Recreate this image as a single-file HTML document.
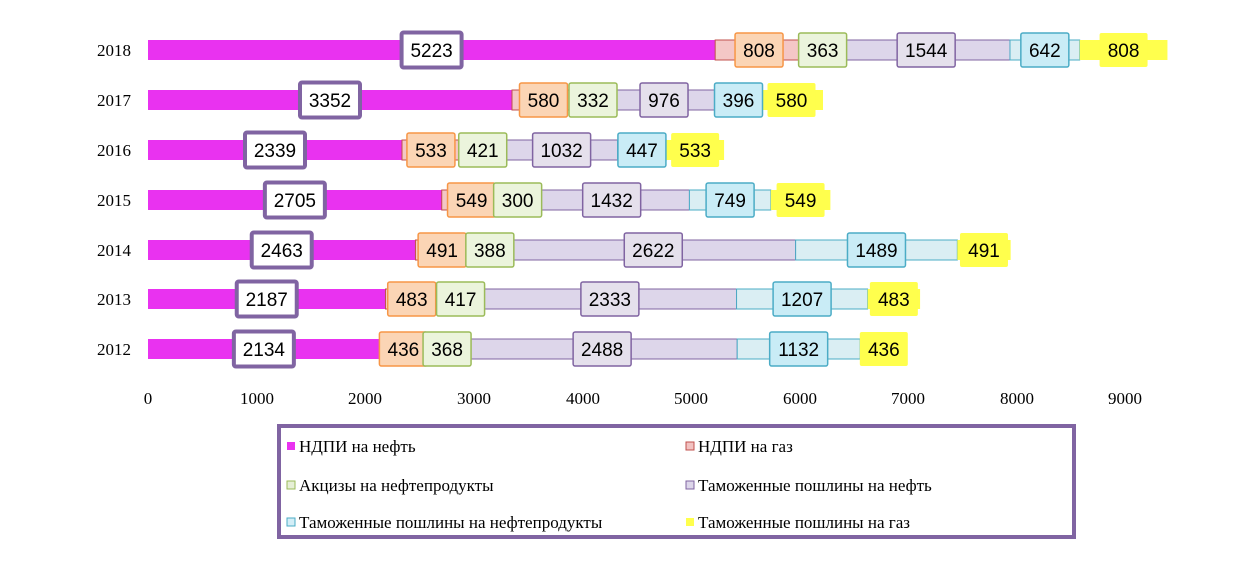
<!DOCTYPE html>
<html><head><meta charset="utf-8"><style>
body{margin:0;background:#fff;}
svg{display:block;}
</style></head><body>
<svg id="s" width="1234" height="562" xmlns="http://www.w3.org/2000/svg" font-family="Liberation Serif, serif">
<g font-size="17" fill="#000">
<text x="131" y="56" text-anchor="end">2018</text>
<text x="131" y="106" text-anchor="end">2017</text>
<text x="131" y="156" text-anchor="end">2016</text>
<text x="131" y="206" text-anchor="end">2015</text>
<text x="131" y="256" text-anchor="end">2014</text>
<text x="131" y="305" text-anchor="end">2013</text>
<text x="131" y="355" text-anchor="end">2012</text>
<text x="148" y="404" text-anchor="middle">0</text>
<text x="257" y="404" text-anchor="middle">1000</text>
<text x="365" y="404" text-anchor="middle">2000</text>
<text x="474" y="404" text-anchor="middle">3000</text>
<text x="583" y="404" text-anchor="middle">4000</text>
<text x="691" y="404" text-anchor="middle">5000</text>
<text x="800" y="404" text-anchor="middle">6000</text>
<text x="908" y="404" text-anchor="middle">7000</text>
<text x="1017" y="404" text-anchor="middle">8000</text>
<text x="1125" y="404" text-anchor="middle">9000</text>
</g>
<g id="bars"></g>
<rect x="279" y="426" width="795" height="111" fill="#fff" stroke="#8064a2" stroke-width="4"/>
<g font-size="17" fill="#000">
<rect x="287" y="442" width="8" height="8" fill="#e932f0"/>
<text x="299" y="452">НДПИ на нефть</text>
<rect x="686" y="442" width="8" height="8" fill="#f2c2c1" stroke="#c0504d"/>
<text x="698" y="452">НДПИ на газ</text>
<rect x="287" y="481" width="8" height="8" fill="#e6efd6" stroke="#9bbb59"/>
<text x="299" y="491">Акцизы на нефтепродукты</text>
<rect x="686" y="481" width="8" height="8" fill="#ddd6ea" stroke="#8064a2"/>
<text x="698" y="491">Таможенные пошлины на нефть</text>
<rect x="287" y="518" width="8" height="8" fill="#d3eef7" stroke="#4bacc6"/>
<text x="299" y="528">Таможенные пошлины на нефтепродукты</text>
<rect x="686" y="518" width="8" height="8" fill="#ffff4d"/>
<text x="698" y="528">Таможенные пошлины на газ</text>
</g>
</svg>
<script>
var data=[[50,[5223,808,363,1544,642,808]],[100,[3352,580,332,976,396,580]],[150,[2339,533,421,1032,447,533]],[200,[2705,549,300,1432,749,549]],[250,[2463,491,388,2622,1489,491]],[299,[2187,483,417,2333,1207,483]],[349,[2134,436,368,2488,1132,436]]];
var seg=[["#e932f0","none"],["#f4c7c6","#c0504d"],["#e6efd6","#9bbb59"],["#ddd6ea","#8064a2"],["#daeef3","#4bacc6"],["#ffff4d","none"]];
var lab=[["#fff","#8064a2",4],["#fbd5b5","#f79646",1.5],["#ebf4dc","#9bbb59",1.5],["#e5e0ec","#8064a2",1.5],["#c9ecf6","#4bacc6",1.5],["#ffff4d","none",0]];
var k=0.10859,h='',l='';
data.forEach(function(r){var y=r[0],x=148;r[1].forEach(function(v,i){var w=v*k;
h+='<rect x="'+x+'" y="'+(y-10)+'" width="'+w+'" height="20" fill="'+seg[i][0]+'" stroke="'+seg[i][1]+'" stroke-width="1"/>';
var c=x+w/2,lw=(v>=1000?58:48),lh=34;if(i==0){lw=60;lh=35;}
l+='<rect x="'+(c-lw/2)+'" y="'+(y-lh/2)+'" width="'+lw+'" height="'+lh+'" rx="2" fill="'+lab[i][0]+'" stroke="'+lab[i][1]+'" stroke-width="'+lab[i][2]+'"/>';
l+='<text x="'+c+'" y="'+(y+7)+'" text-anchor="middle" font-family="Liberation Sans, sans-serif" font-size="19">'+v+'</text>';
x+=w;});});
document.getElementById('bars').innerHTML=h+l;
</script>
</body></html>
